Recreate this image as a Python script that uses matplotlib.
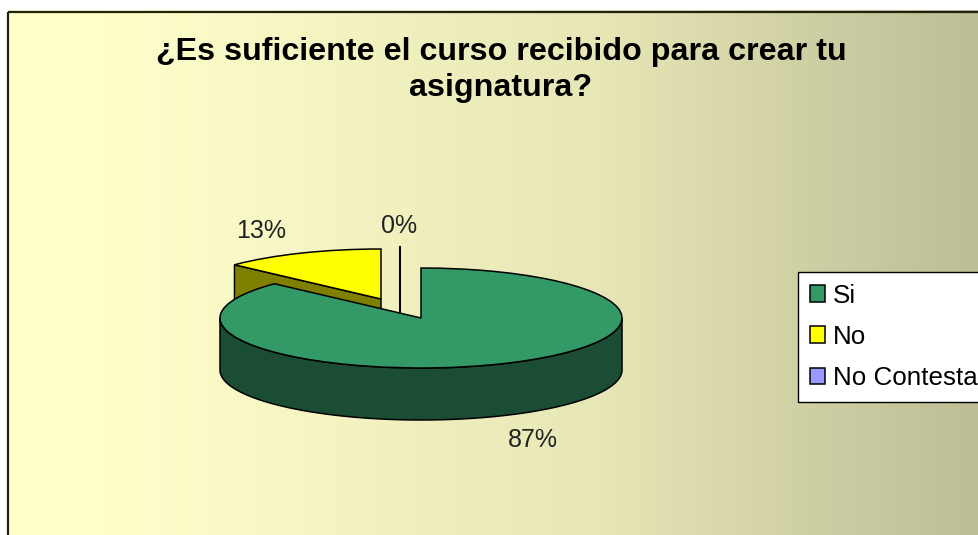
import matplotlib
matplotlib.use('Agg')
import matplotlib.pyplot as plt
import numpy as np
from matplotlib.patches import Rectangle

W, H = 979, 535

title = '¿Es suficiente el curso recibido para crear tu\nasignatura?'
labels = ['Si', 'No', 'No Contesta']
values = [87, 13, 0]
top_colors = ['#339966', '#FFFF00', '#9999FF']
side_colors = ['#1A4D33', '#808000', '#4D4D80']

# gradient of the chart area, left to right
grad_x = [0, 100, 300, 600, 800, 979]
grad_r = [255, 255, 246, 230, 208, 190]
grad_g = [255, 255, 246, 230, 208, 190]
grad_b = [204, 204, 196, 182, 165, 150]

# pie geometry in pixels
cx, cy = 421, 318
rx, ry = 201, 50
depth = 52
slice_shift = [(0, 0), (-40, -19), (-21, -22)]
label_pos = [(533, 440), (261, 231), (399, 226)]

plt.rcParams['font.family'] = ['Liberation Sans', 'DejaVu Sans']

fig = plt.figure(figsize=(W / 100, H / 100), dpi=100, facecolor='white')

# background, white outside the frame
bg = fig.add_axes([0, 0, 1, 1], zorder=0)
xs = np.arange(W)
grad = np.stack([np.interp(xs, grad_x, grad_r),
                 np.interp(xs, grad_x, grad_g),
                 np.interp(xs, grad_x, grad_b)], axis=-1) / 255
bg.imshow(grad[np.newaxis, :, :], extent=(0, W, H, 0), aspect='auto')
bg.add_patch(Rectangle((0, 0), W, 10, facecolor='white', edgecolor='none'))
bg.add_patch(Rectangle((0, 0), 7, H, facecolor='white', edgecolor='none'))
bg.add_patch(Rectangle((8.5, 11.5), W + 20, H + 20, fill=False, edgecolor='#222211', linewidth=1.6))
bg.set_xlim(0, W)
bg.set_ylim(H, 0)
bg.axis('off')

# pie axes, one data unit is rx by ry pixels so the circle turns into an ellipse
ax = fig.add_axes([0, 0, 1, 1], zorder=1)
wedges, _ = ax.pie(values, startangle=90, counterclock=False, colors=top_colors,
                   wedgeprops=dict(edgecolor='black', linewidth=1.1))
ax.set_aspect('auto')
ax.set_xlim(-cx / rx, (W - cx) / rx)
ax.set_ylim((cy - H) / ry, cy / ry)
ax.axis('off')

dz = depth / ry
edge = dict(edgecolor='black', linewidth=1.1)
angle = 90.0
for i, (w, v) in enumerate(zip(wedges, values)):
    sx, sy = slice_shift[i][0] / rx, -slice_shift[i][1] / ry
    w.set_center((sx, sy))
    end = angle - v * 3.6
    if i == 0:
        # front wall, only the lower half of the rim can be seen
        t = np.radians(np.linspace(180, 360, 200))
        px = sx + np.cos(t)
        py = sy + np.sin(t)
        ax.fill(np.r_[px, px[::-1]], np.r_[py, py[::-1] - dz],
                facecolor=side_colors[i], zorder=3, **edge)
        w.set_zorder(4)
    else:
        # cut face going down from the rim at the slice start
        t = np.radians(angle)
        rim_x, rim_y = sx + np.cos(t), sy + np.sin(t)
        ax.fill([sx, rim_x, rim_x, sx], [sy, rim_y, rim_y - dz, sy - dz],
                facecolor=side_colors[i], zorder=1, **edge)
        w.set_zorder(2)
    angle = end

for v, (x, y) in zip(values, label_pos):
    fig.text(x / W, 1 - y / H, f'{v}%', ha='center', va='center', fontsize=18, color='#222222')

fig.text(501 / W, 1 - 70 / H, title, ha='center', va='center', fontsize=23.2, fontweight='bold',
         color='black', linespacing=1.28)

leg = ax.legend(wedges, labels, loc='upper left', bbox_to_anchor=(798 / W, 1 - 272 / H),
                bbox_transform=fig.transFigure, fontsize=18.7, frameon=True, fancybox=False,
                framealpha=1, facecolor='white', edgecolor='black', borderaxespad=0,
                handlelength=0.6, handleheight=0.6, handletextpad=0.28, labelspacing=0.66,
                borderpad=0.45)
leg.set_zorder(10)
leg.set_clip_on(False)

fig.savefig('out.png', dpi=100)
